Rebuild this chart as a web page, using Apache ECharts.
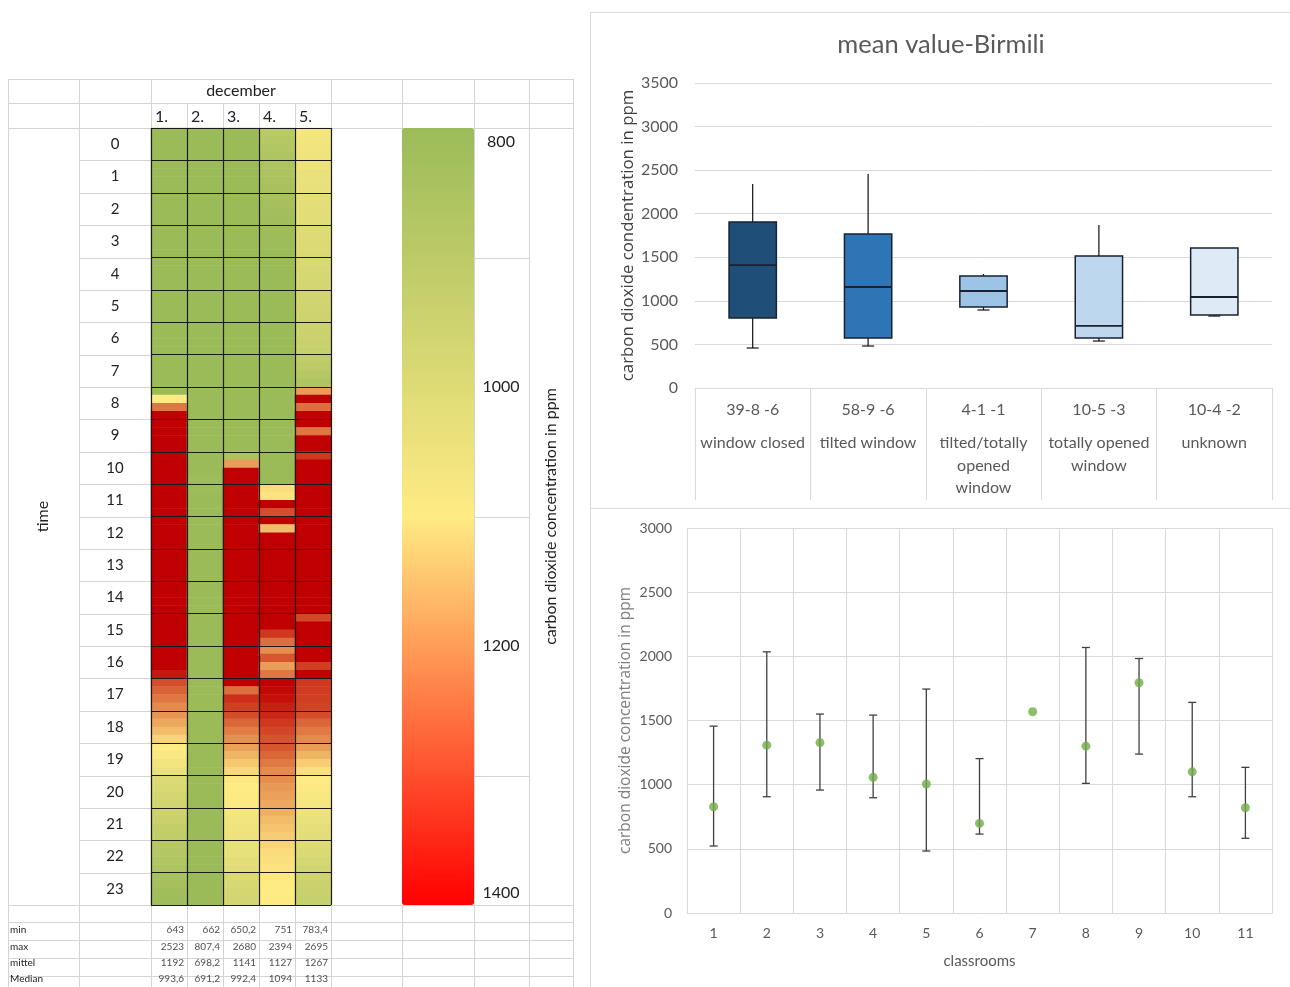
<!DOCTYPE html>
<html><head><meta charset="utf-8">
<script src="https://cdn.jsdelivr.net/npm/echarts@6/dist/echarts.min.js"></script>
<style>html,body{margin:0;padding:0;background:#fff}#c{width:1290px;height:987px}</style>
</head><body><div id="c"></div>
<script>
// ---------------- data ----------------
const days = ['1.', '2.', '3.', '4.', '5.'];
const hours = ['0','1','2','3','4','5','6','7','8','9','10','11','12','13','14','15','16','17','18','19','20','21','22','23'];
// CO2 (ppm) per quarter hour (4 values per hour)
const day1 = [
705,700,698,695, 690,688,685,683, 680,678,676,675, 672,670,668,666,
664,662,660,658, 656,655,653,652, 650,648,646,645, 643,650,680,720,
780,1100,1250,1550, 1750,1900,2000,2100, 2150,2200,2250,2300, 2350,2400,2450,2500,
2520,2523,2500,2450, 2400,2350,2300,2250, 2200,2150,2100,2050, 2000,1950,1900,1800,
1650,1500,1420,1370, 1300,1275,1250,1225, 1210,1185,1160,1130, 1100,1085,1060,1040,
995,985,970,960, 945,935,920,910, 885,875,865,855, 840,830,820,812];
const day2 = [
720,715,710,705, 700,698,695,692, 690,688,685,683, 680,678,676,675,
673,671,670,668, 667,665,664,663, 662,663,665,668, 670,675,680,690,
700,710,720,730, 740,750,760,770, 780,790,800,807.4, 805,800,795,790,
785,780,775,770, 765,760,755,750, 745,740,735,730, 725,720,715,710,
705,700,695,690, 685,680,678,676, 674,672,670,668, 667,666,665,664,
664,663,663,662, 662,663,664,665, 666,667,668,670, 672,674,676,678];
const day3 = [
700,698,695,693, 690,688,686,684, 682,680,678,676, 674,672,670,668,
666,664,662,660, 658,656,655,654, 653,652,651,650.2, 655,660,670,680,
690,700,710,720, 730,745,760,775, 850,1200,1600,1800, 1900,2000,2100,2200,
2300,2400,2500,2600, 2650,2680,2650,2600, 2550,2500,2450,2400, 2350,2300,2200,2100,
2000,1900,1800,1600, 1420,1260,1340,1320, 1300,1270,1240,1215, 1195,1170,1145,1125,
1105,1100,1095,1090, 1070,1060,1050,1045, 1035,1030,1020,1015, 990,980,970,965];
const day4 = [
890,880,870,860, 855,850,845,840, 835,830,825,820, 815,810,805,800,
795,790,785,780, 775,770,765,760, 758,755,752,751, 752,755,760,765,
770,775,780,785, 788,790,792,795, 795,797,798,800, 1120,1110,1500,1300,
1500,1160,1450,1700, 1800,1900,2000,2100, 2200,2300,2394,2350, 1900,1800,1330,1260,
1220,1290,1200,1250, 1400,1390,1380,1360, 1350,1330,1310,1295, 1290,1270,1245,1225,
1220,1205,1195,1185, 1175,1160,1150,1140, 1130,1120,1115,1110, 1105,1100,1098,1095];
const day5 = [
1070,1060,1055,1050, 1045,1040,1035,1030, 1025,1020,1015,1010, 1005,1000,995,990,
985,980,975,970, 965,960,955,950, 945,940,935,930, 915,900,880,860,
1200,1600,1260,1700, 1800,1250,1700,1900, 1330,2000,2100,2200, 2300,2400,2500,2600,
2695,2650,2600,2550, 2500,2450,2400,2350, 2300,2250,2200,2150, 1310,2100,2000,1900,
1800,1700,1320,1600, 1330,1325,1320,1315, 1300,1270,1245,1225, 1200,1170,1140,1115,
1100,1090,1080,1070, 1045,1035,1025,1015, 1005,990,975,960, 950,940,935,930];

const statRows = ['min', 'max', 'mittel', 'Median'];
const statMin = [643, 662, 650.2, 751, 783.4];
const statMax = [2523, 807.4, 2680, 2394, 2695];
const statMean = [1192, 698.2, 1141, 1127, 1267];
const statMedian = [993.6, 691.2, 992.4, 1094, 1133];

const boxCodes = ['39-8 -6', '58-9 -6', '4-1 -1', '10-5 -3', '10-4 -2'];
const boxNames = ['window closed', 'tilted window', 'tilted/totally\nopened\nwindow', 'totally opened\nwindow', 'unknown'];
const boxMin = [459, 482, 895, 539, 826];
const boxQ1 = [803, 574, 930, 574, 838];
const boxMedian = [1411, 1159, 1113, 712, 1044];
const boxQ3 = [1905, 1767, 1285, 1515, 1607];
const boxMax = [2341, 2456, 1308, 1871, 1607];

const classrooms = ['1','2','3','4','5','6','7','8','9','10','11'];
const roomMean = [828, 1308, 1328, 1057, 1005, 698, 1568, 1300, 1794, 1100, 820];
const roomLow = [522, 906, 958, 898, 483, 615, null, 1010, 1238, 906, 582];
const roomHigh = [1456, 2035, 1550, 1542, 1745, 1203, null, 2069, 1983, 1641, 1135];

// ---------------- styles / layout ----------------
const boxColors = ['#1F4E79', '#2E75B6', '#9DC3E6', '#BDD7EE', '#DEEBF7'];
const FONT = 'Lato, sans-serif';
const sheetText = '#222';
const chartText = '#595959';
const gridGray = '#D9D9D9';
const sheetGray = '#D4D4D4';

const quarterRows = [];
hours.forEach(h => ['00','15','30','45'].forEach(m => quarterRows.push(h + ':' + m)));
const heatDays = [day1, day2, day3, day4, day5];
const heatData = [];
heatDays.forEach((arr, d) => arr.forEach((v, r) => heatData.push([d, r, v])));

const statData = [];
[statMin, statMax, statMean, statMedian].forEach((arr, r) => arr.forEach((v, d) => statData.push([d, r, v])));

const boxData = boxCodes.map((c, i) => [i, boxMin[i], boxQ1[i], boxMedian[i], boxQ3[i], boxMax[i]]);
const errData = classrooms.map((c, i) => [i, roomLow[i], roomHigh[i]]);
const meanData = classrooms.map((c, i) => [i, roomMean[i]]);

// spreadsheet cell lines (layout only)
const colX = [8, 79, 151, 187, 223, 259, 295, 331, 402, 474, 529, 573];
const HEAT_TOP = 128, HEAT_H = 777;
const graphics = [];
function ln(x1, y1, x2, y2, color) {
  graphics.push({type: 'line', silent: true, z: -1, shape: {x1, y1, x2, y2}, style: {stroke: color || sheetGray, lineWidth: 1}});
}
colX.forEach(x => ln(x + 0.5, [187, 223, 259, 295].includes(x) ? 103 : 79, x + 0.5, 987));
[79, 103, 128, 905, 922, 940, 958, 976].forEach(y => ln(8, y + 0.5, 573, y + 0.5));
for (let i = 1; i < 24; i++) {
  const y = Math.round(HEAT_TOP + HEAT_H * i / 24) + 0.5;
  ln(79, y, 151, y);
  if (i === 4 || i === 12 || i === 20) ln(474, y, 529, y);
}
// right panel frame
ln(590.5, 12, 590.5, 987, gridGray);
ln(590, 12.5, 1290, 12.5, gridGray);
ln(590, 508.5, 1290, 508.5, gridGray);

function fmtComma(v) { return String(v).replace('.', ','); }
const plain = v => String(v);

function renderBox(params, api) {
  const i = api.value(0);
  const cx = api.coord([i, 0])[0];
  const yMin = api.coord([i, api.value(1)])[1];
  const yQ1 = api.coord([i, api.value(2)])[1];
  const yMed = api.coord([i, api.value(3)])[1];
  const yQ3 = api.coord([i, api.value(4)])[1];
  const yMax = api.coord([i, api.value(5)])[1];
  const w = api.size([1, 0])[0] * 0.41;
  const stroke = '#1a2230';
  return {type: 'group', children: [
    {type: 'line', shape: {x1: cx, y1: yQ3, x2: cx, y2: yMax}, style: {stroke: '#111', lineWidth: 1.2}},
    {type: 'line', shape: {x1: cx, y1: yQ1, x2: cx, y2: yMin}, style: {stroke: '#111', lineWidth: 1.2}},
    {type: 'line', shape: {x1: cx - 6, y1: yMin, x2: cx + 6, y2: yMin}, style: {stroke: '#111', lineWidth: 1.2}},
    {type: 'rect', shape: {x: cx - w / 2, y: yQ3, width: w, height: yQ1 - yQ3}, style: {fill: boxColors[params.dataIndex], stroke: stroke, lineWidth: 1.5}},
    {type: 'line', shape: {x1: cx - w / 2, y1: yMed, x2: cx + w / 2, y2: yMed}, style: {stroke: stroke, lineWidth: 1.8}}
  ]};
}
function renderErr(params, api) {
  const k = params.dataIndex;
  if (roomLow[k] == null || roomHigh[k] == null) return null;
  const i = api.value(0);
  const cx = api.coord([i, 0])[0];
  const yl = api.coord([i, api.value(1)])[1];
  const yh = api.coord([i, api.value(2)])[1];
  const st = {stroke: '#404040', lineWidth: 1.3};
  return {type: 'group', children: [
    {type: 'line', shape: {x1: cx, y1: yl, x2: cx, y2: yh}, style: st},
    {type: 'line', shape: {x1: cx - 4, y1: yl, x2: cx + 4, y2: yl}, style: st},
    {type: 'line', shape: {x1: cx - 4, y1: yh, x2: cx + 4, y2: yh}, style: st}
  ]};
}

const chart = echarts.init(document.getElementById('c'), null, {renderer: 'canvas'});
chart.setOption({
  animation: false,
  backgroundColor: '#fff',
  textStyle: {fontFamily: FONT},
  title: {
    text: 'mean value-Birmili', left: 936, top: 27, textAlign: 'center',
    textStyle: {fontSize: 25.5, fontWeight: 'normal', color: chartText, fontFamily: FONT}
  },
  graphic: graphics,
  grid: [
    {left: 151, top: HEAT_TOP, width: 180, height: HEAT_H},
    {left: 402, top: HEAT_TOP, width: 72, height: HEAT_H},
    {left: 151, top: 922, width: 180, height: 72},
    {left: 695, top: 83, width: 577, height: 305},
    {left: 687, top: 528, width: 585, height: 385}
  ],
  xAxis: [
    {gridIndex: 0, type: 'category', data: days, position: 'top',
      axisLine: {show: false}, axisTick: {show: false},
      axisLabel: {margin: 3, interval: 0, formatter: v => '{d|' + v + '}',
        rich: {d: {width: 28, align: 'left', fontSize: 16, color: sheetText, fontFamily: FONT}}},
      splitLine: {show: true, interval: 0, lineStyle: {color: '#1a1a1a', width: 1.2}},
      name: 'december', nameLocation: 'middle', nameGap: 29,
      nameTextStyle: {fontSize: 16, color: sheetText}, z: 10},
    {gridIndex: 1, type: 'value', min: 0, max: 1, show: false},
    {gridIndex: 2, type: 'category', data: days, show: false},
    {gridIndex: 3, type: 'category', data: boxCodes,
      axisLine: {lineStyle: {color: gridGray}},
      axisTick: {show: true, interval: 0, length: 112, lineStyle: {color: gridGray}},
      axisLabel: {interval: 0, margin: 0,
        formatter: (v, i) => '{a|' + boxCodes[i] + '}\n' + boxNames[i].split('\n').map(s => '{b|' + s + '}').join('\n'),
        rich: {a: {fontSize: 16, lineHeight: 44, color: chartText, fontFamily: FONT},
               b: {fontSize: 16, lineHeight: 22.5, color: chartText, fontFamily: FONT}}},
      splitLine: {show: false}},
    {gridIndex: 4, type: 'category', data: classrooms,
      axisLine: {lineStyle: {color: gridGray}}, axisTick: {show: false},
      axisLabel: {margin: 13, fontSize: 14, color: chartText},
      splitLine: {show: true, interval: 0, lineStyle: {color: gridGray}},
      name: 'classrooms', nameLocation: 'middle', nameGap: 41,
      nameTextStyle: {fontSize: 15, color: chartText}}
  ],
  yAxis: [
    {gridIndex: 0, type: 'category', data: quarterRows, inverse: true, show: false, position: 'right'},
    {gridIndex: 0, type: 'category', data: hours, inverse: true, position: 'left',
      axisLine: {show: false}, axisTick: {show: false},
      axisLabel: {margin: 36, align: 'center', fontSize: 15, color: sheetText},
      splitLine: {show: true, interval: 0, lineStyle: {color: '#1a1a1a', width: 1.2}},
      name: 'time', nameLocation: 'middle', nameGap: 100, nameRotate: 90,
      nameTextStyle: {fontSize: 16, color: sheetText}, z: 10},
    {gridIndex: 1, type: 'value', min: 800, max: 1400, interval: 200, inverse: true, position: 'right',
      axisLine: {show: false}, axisTick: {show: false}, splitLine: {show: false},
      axisLabel: {margin: 27, align: 'center', fontSize: 16, color: sheetText, formatter: plain,
        verticalAlignMinLabel: 'top', verticalAlignMaxLabel: 'bottom', padding: [6, 0, 4, 0]},
      name: 'carbon dioxide concentration in ppm', nameLocation: 'middle', nameGap: 69, nameRotate: 90,
      nameTextStyle: {fontSize: 16, color: sheetText}},
    {gridIndex: 2, type: 'category', data: statRows, inverse: true,
      axisLine: {show: false}, axisTick: {show: false}, splitLine: {show: false},
      axisLabel: {margin: 141, align: 'left', fontSize: 10, color: sheetText}},
    {gridIndex: 3, type: 'value', min: 0, max: 3500, interval: 500,
      axisLine: {show: false}, axisTick: {show: false},
      splitLine: {lineStyle: {color: gridGray}},
      axisLabel: {margin: 17, fontSize: 16, color: chartText, formatter: plain},
      name: 'carbon dioxide condentration in ppm', nameLocation: 'middle', nameGap: 58,
      nameTextStyle: {fontSize: 16.8, color: '#404040', fontFamily: 'Open Sans'}},
    {gridIndex: 4, type: 'value', min: 0, max: 3000, interval: 500,
      axisLine: {show: false}, axisTick: {show: false},
      splitLine: {lineStyle: {color: gridGray}},
      axisLabel: {margin: 15, fontSize: 14, color: chartText, formatter: plain},
      name: 'carbon dioxide concentration in ppm', nameLocation: 'middle', nameGap: 53,
      nameTextStyle: {fontSize: 15.5, color: '#7F7F7F', fontFamily: 'Open Sans'}}
  ],
  visualMap: [
    {type: 'continuous', show: false, seriesIndex: 0, min: 800, max: 1400,
      inRange: {color: ['#9BBB59', '#FFEB84', '#C00000']}},
    {type: 'continuous', show: true, seriesIndex: [], min: 800, max: 1400, inverse: true,
      orient: 'vertical', left: 402, top: HEAT_TOP, itemWidth: 72, itemHeight: HEAT_H,
      padding: 0, calculable: false, hoverLink: false, realtime: false,
      inRange: {color: ['#9BBB59', '#FFEB84', '#FF0000']}}
  ],
  series: [
    {type: 'heatmap', xAxisIndex: 0, yAxisIndex: 0, data: heatData, progressive: 0,
      emphasis: {disabled: true}, itemStyle: {borderWidth: 0}},
    {type: 'scatter', xAxisIndex: 2, yAxisIndex: 3, data: statData, symbolSize: 0, silent: true,
      itemStyle: {color: 'rgba(0,0,0,0)'},
      label: {show: true, position: 'inside', align: 'right', offset: [15, 0], fontSize: 10, color: sheetText,
        formatter: p => fmtComma(p.value[2])}},
    {type: 'custom', xAxisIndex: 3, yAxisIndex: 4, data: boxData, renderItem: renderBox, silent: true,
      encode: {x: 0, y: [1, 2, 3, 4, 5]}},
    {type: 'custom', xAxisIndex: 4, yAxisIndex: 5, data: errData, renderItem: renderErr, silent: true,
      encode: {x: 0, y: [1, 2]}},
    {type: 'scatter', xAxisIndex: 4, yAxisIndex: 5, data: meanData, symbolSize: 9, z: 5,
      itemStyle: {color: '#70AD47'}}
  ]
});
</script>
</body></html>
